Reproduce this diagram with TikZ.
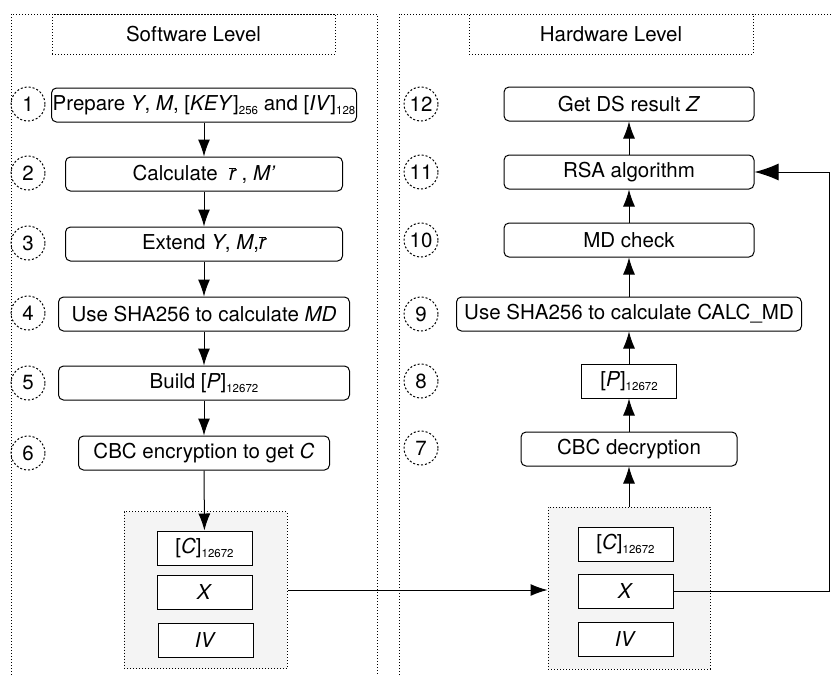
\documentclass[tikz,border=0pt]{standalone}
\usepackage{fontspec}
\setmainfont{TeX Gyre Heros}
\usetikzlibrary{arrows.meta}
\newcommand{\lowidx}[1]{\raisebox{-4pt}{\fontsize{11.5}{12}\selectfont #1}}

\begin{document}
\begin{tikzpicture}[x=1pt, y=-1pt, line width=1pt,
    font=\fontsize{20.5}{24}\selectfont,
    stepbox/.style={draw, rounded corners=5pt, minimum height=34pt, inner sep=1pt},
    databox/.style={draw, fill=white, minimum width=95pt, minimum height=34pt, inner sep=1pt},
    numcircle/.style={draw, circle, minimum size=34pt, inner sep=0pt, dash pattern=on 2pt off 2pt},
    titlebox/.style={draw, dash pattern=on 1pt off 2pt, minimum height=40pt},
    sharebox/.style={draw, dash pattern=on 1pt off 2pt, fill=gray!9},
    flow/.style={-{Latex[length=17pt,width=12pt]}},
    bigflow/.style={-{Latex[length=24pt,width=17pt]}}]
    \useasboundingbox (0,0) rectangle (832,675);
    % The two levels.
        \draw[dash pattern=on 1pt off 2pt] (11,675) -- (11,14) -- (377,14) -- (377,675);
        \draw[dash pattern=on 1pt off 2pt] (399,675) -- (399,14) -- (832,14);
        \node[titlebox, minimum width=283pt] (swtitle) at (193.5,34) {Software Level};
        \node[titlebox, minimum width=284pt] (hwtitle) at (611,34) {Hardware Level};
    % Software steps.
        \node[stepbox, minimum width=305pt] (s1) at (204,105) {Prepare \textit{Y}, \textit{M}, [\textit{KEY}]\lowidx{256} and [\textit{IV}]\lowidx{128}};
        \node[stepbox, minimum width=277pt] (s2) at (204,174) {Calculate \ $\overline{\textit{r}}$ , \textit{M’}};
        \node[stepbox, minimum width=277pt] (s3) at (204,244) {Extend \textit{Y}, \textit{M},$\overline{\textit{r}}$};
        \node[stepbox, minimum width=291pt] (s4) at (204,314) {Use SHA256 to calculate \textit{MD}};
        \node[stepbox, minimum width=291pt] (s5) at (204,383) {Build [\textit{P}]\lowidx{12672}};
        \node[stepbox, minimum width=251pt] (s6) at (204,453) {CBC encryption to get \textit{C}};
    % Hardware steps.
        \node[stepbox, minimum width=250pt] (s12) at (629,104) {Get DS result \textit{Z}};
        \node[stepbox, minimum width=250pt] (s11) at (629,172) {RSA algorithm};
        \node[stepbox, minimum width=250pt] (s10) at (629,240) {MD check};
        \node[stepbox, minimum width=345pt] (s9) at (629,314) {Use SHA256 to calculate CALC\_MD};
        \node[draw, minimum width=95pt, minimum height=34pt, inner sep=1pt] (s8) at (629,381) {[\textit{P}]\lowidx{12672}};
        \node[stepbox, minimum width=216pt] (s7) at (629,449) {CBC decryption};
    % Step numbers.
        \foreach \n/\y in {1/104, 2/173, 3/243, 4/313, 5/383, 6/453}
            \node[numcircle] (n\n) at (28,\y) {\n};
        \foreach \n/\y in {12/104, 11/172, 10/240, 9/314, 8/381, 7/448}
            \node[numcircle] (n\n) at (421,\y) {\n};
    % Data passed between the levels.
        \node[sharebox, minimum width=163pt, minimum height=157pt] (lshare) at (205.5,590) {};
        \node[databox] (lc) at (204.5,548) {[\textit{C}]\lowidx{12672}};
        \node[databox] (lx) at (204.5,592.5) {\textit{X}};
        \node[databox] (liv) at (205.5,640) {\textit{IV}};
        \node[sharebox, minimum width=162pt, minimum height=162pt] (rshare) at (629,588) {};
        \node[databox] (rc) at (625.5,544) {[\textit{C}]\lowidx{12672}};
        \node[databox] (rx) at (625.5,591) {\textit{X}};
        \node[databox] (riv) at (625.5,639) {\textit{IV}};
        \coordinate (turn) at (829,172);
    % Arrows.
        \foreach \a/\b in {s1/s2, s2/s3, s3/s4, s4/s5, s5/s6, s6/lc, rshare/s7, s7/s8, s8/s9, s9/s10, s10/s11, s11/s12}
            \draw[flow] (\a) -- (\b);
        \draw[flow] (lshare.east) -- (lshare.east -| rshare.west);
        \draw[bigflow] (rx.east) -| (turn) -- (s11.east);
\end{tikzpicture}
\end{document}
